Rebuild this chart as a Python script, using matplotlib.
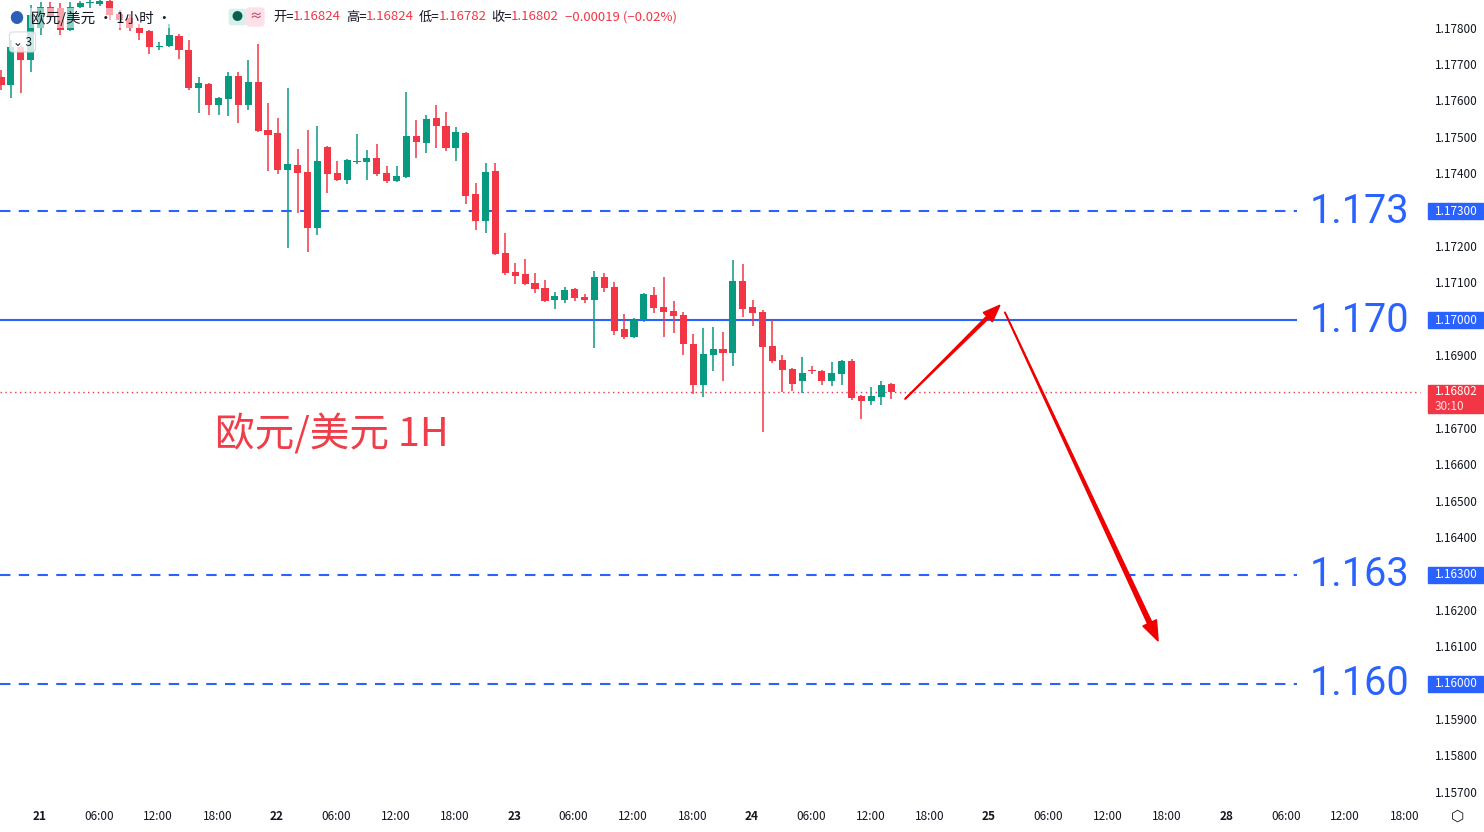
import numpy as np
import matplotlib
matplotlib.use('Agg')
from matplotlib import pyplot as plt
from matplotlib.patches import Polygon, Rectangle
from matplotlib.transforms import blended_transform_factory

plt.rcParams['font.family'] = ['Noto Sans CJK SC', 'DejaVu Sans']

# hourly candles, 20th 20:00 .. 24th 14:00
opens = [1.17668, 1.17646, 1.17751, 1.17715, 1.17803, 1.17861, 1.17858, 1.17798, 1.17861, 1.17872,
         1.17869, 1.17877, 1.17842, 1.17831, 1.17803, 1.17795, 1.17752, 1.17754, 1.17781, 1.17743,
         1.17638, 1.17649, 1.17591, 1.17608, 1.17671, 1.17591, 1.17655, 1.17523, 1.17514, 1.17413,
         1.17426, 1.17407, 1.17253, 1.17476, 1.17404, 1.17385, 1.17436, 1.17435, 1.17446, 1.17404,
         1.17382, 1.17393, 1.17506, 1.17487, 1.17556, 1.17534, 1.17473, 1.17514, 1.17347, 1.17272,
         1.17410, 1.17184, 1.17132, 1.17127, 1.17102, 1.17088, 1.17055, 1.17055, 1.17086, 1.17064,
         1.17055, 1.17119, 1.17091, 1.16976, 1.16954, 1.17000, 1.17069, 1.17036, 1.17025, 1.17014,
         1.16934, 1.16822, 1.16904, 1.16921, 1.16910, 1.17108, 1.17036, 1.17022, 1.16929, 1.16890,
         1.16866, 1.16833, 1.16863, 1.16860, 1.16833, 1.16852, 1.16888, 1.16791, 1.16778, 1.16789,
         1.16824]
highs = [1.17688, 1.17770, 1.17756, 1.17866, 1.17875, 1.17875, 1.17872, 1.17875, 1.17877, 1.17880,
         1.17880, 1.17880, 1.17853, 1.17842, 1.17814, 1.17797, 1.17765, 1.17814, 1.17787, 1.17770,
         1.17668, 1.17651, 1.17613, 1.17682, 1.17682, 1.17715, 1.17759, 1.17597, 1.17556, 1.17638,
         1.17470, 1.17523, 1.17534, 1.17478, 1.17437, 1.17442, 1.17512, 1.17468, 1.17484, 1.17424,
         1.17424, 1.17627, 1.17550, 1.17564, 1.17591, 1.17572, 1.17531, 1.17516, 1.17377, 1.17432,
         1.17432, 1.17240, 1.17157, 1.17168, 1.17130, 1.17110, 1.17077, 1.17091, 1.17088, 1.17072,
         1.17135, 1.17130, 1.17105, 1.17017, 1.17006, 1.17074, 1.17091, 1.17119, 1.17053, 1.17022,
         1.16962, 1.16978, 1.16981, 1.16967, 1.17165, 1.17154, 1.17055, 1.17028, 1.17000, 1.16904,
         1.16868, 1.16899, 1.16874, 1.16862, 1.16885, 1.16890, 1.16893, 1.16793, 1.16816, 1.16833,
         1.16826]
lows = [1.17633, 1.17611, 1.17624, 1.17682, 1.17784, 1.17825, 1.17784, 1.17795, 1.17858, 1.17858,
        1.17864, 1.17825, 1.17798, 1.17795, 1.17770, 1.17732, 1.17743, 1.17752, 1.17718, 1.17633,
        1.17569, 1.17564, 1.17564, 1.17561, 1.17542, 1.17578, 1.17518, 1.17410, 1.17402, 1.17198,
        1.17294, 1.17187, 1.17234, 1.17349, 1.17383, 1.17374, 1.17429, 1.17385, 1.17396, 1.17377,
        1.17380, 1.17390, 1.17446, 1.17459, 1.17473, 1.17465, 1.17437, 1.17319, 1.17248, 1.17239,
        1.17180, 1.17124, 1.17099, 1.17097, 1.17075, 1.17050, 1.17031, 1.17047, 1.17053, 1.17047,
        1.16923, 1.17077, 1.16959, 1.16948, 1.16951, 1.16995, 1.17020, 1.16954, 1.16965, 1.16904,
        1.16797, 1.16789, 1.16860, 1.16833, 1.16874, 1.17009, 1.16984, 1.16692, 1.16882, 1.16802,
        1.16805, 1.16800, 1.16852, 1.16822, 1.16819, 1.16822, 1.16780, 1.16728, 1.16767, 1.16767,
        1.16782]
closes = [1.17646, 1.17751, 1.17715, 1.17839, 1.17861, 1.17833, 1.17798, 1.17861, 1.17872, 1.17875,
          1.17877, 1.17839, 1.17825, 1.17803, 1.17789, 1.17751, 1.17754, 1.17784, 1.17743, 1.17638,
          1.17652, 1.17591, 1.17611, 1.17671, 1.17591, 1.17655, 1.17520, 1.17509, 1.17413, 1.17429,
          1.17404, 1.17253, 1.17437, 1.17402, 1.17385, 1.17440, 1.17437, 1.17446, 1.17402, 1.17382,
          1.17396, 1.17506, 1.17490, 1.17553, 1.17534, 1.17473, 1.17517, 1.17341, 1.17272, 1.17407,
          1.17182, 1.17130, 1.17121, 1.17099, 1.17086, 1.17053, 1.17066, 1.17083, 1.17061, 1.17055,
          1.17119, 1.17088, 1.16970, 1.16954, 1.17000, 1.17072, 1.17033, 1.17022, 1.17011, 1.16934,
          1.16822, 1.16907, 1.16921, 1.16910, 1.17108, 1.17031, 1.17020, 1.16926, 1.16888, 1.16863,
          1.16824, 1.16855, 1.16860, 1.16833, 1.16855, 1.16888, 1.16786, 1.16778, 1.16791, 1.16822,
          1.16802]

levels = [1.173, 1.170, 1.163, 1.160]
level_labels = ['1.173', '1.170', '1.163', '1.160']
level_styles = ['--', '-', '--', '--']
last_price = 1.16802

y_ticks = [1.178, 1.177, 1.176, 1.175, 1.174, 1.173, 1.172, 1.171, 1.170, 1.169, 1.168,
           1.167, 1.166, 1.165, 1.164, 1.163, 1.162, 1.161, 1.160, 1.159, 1.158, 1.157]
x_tick_pos = [4 + 6 * k for k in range(24)]
x_tick_labels = ['21', '06:00', '12:00', '18:00', '22', '06:00', '12:00', '18:00',
                 '23', '06:00', '12:00', '18:00', '24', '06:00', '12:00', '18:00',
                 '25', '06:00', '12:00', '18:00', '28', '06:00', '12:00', '18:00']

# arrow path (hour index, price)
arrow_up = [(91.4, 1.16783), (101.0, 1.17041)]
arrow_down = [(101.5, 1.17022), (117.0, 1.16118)]

GREEN = '#089981'
RED = '#f23645'
BLUE = '#2962ff'

fig = plt.figure(figsize=(14.84, 8.32), dpi=100)
ax = fig.add_axes([0, 32 / 832, 1, 800 / 832])
ax.set_xlim(-0.1, 149.95)
ax.set_ylim(1.15681, 1.17880)
ax.axis('off')

for i in range(len(opens)):
    o, h, l, c = opens[i], highs[i], lows[i], closes[i]
    col = GREEN if c >= o else RED
    ax.vlines(i, l, h, color=col, linewidth=1.1, zorder=3)
    body = max(abs(c - o), 0.000015)
    ax.add_patch(Rectangle((i - 0.36, min(o, c)), 0.72, body, color=col, zorder=4, linewidth=0))

# levels
for lv, lab, ls in zip(levels, level_labels, level_styles):
    style = (0, (5, 4)) if ls == '--' else '-'
    ax.hlines(lv, -0.1, 131.0, color=BLUE, linestyle=style, linewidth=1.5, zorder=2)
    ax.text(142.4, lv, lab, color=BLUE, fontsize=28.5, ha='right', va='center',
            family=['Roboto', 'DejaVu Sans'])

ax.hlines(last_price, -0.1, 143.5, color=RED, linestyle=(0, (1, 2.5)), linewidth=1, zorder=2)

# right price scale
yt = ax.get_yaxis_transform()
for t in y_ticks:
    if t in levels:
        continue
    ax.text(0.967, t, '%.5f' % t, transform=yt, fontsize=8.5, color='#131722', va='center')
for lv in levels:
    ax.add_patch(Rectangle((0.9625, lv - 0.00022), 0.037, 0.00044, transform=yt,
                           color=BLUE, clip_on=False, zorder=5))
    ax.text(0.967, lv, '%.5f' % lv, transform=yt, fontsize=8.5, color='white', va='center', zorder=6)
ax.add_patch(Rectangle((0.9625, last_price - 0.00058), 0.037, 0.00078, transform=yt,
                       color=RED, clip_on=False, zorder=5))
ax.text(0.967, last_price + 0.00001, '%.5f' % last_price, transform=yt, fontsize=8.5,
        color='white', va='center', zorder=6)
ax.text(0.967, last_price - 0.00038, '30:10', transform=yt, fontsize=8.5,
        color='#ffe0e3', va='center', zorder=6)

# time axis
xt = blended_transform_factory(ax.transData, fig.transFigure)
for p, lab in zip(x_tick_pos, x_tick_labels):
    bold = ':' not in lab
    ax.text(p - 0.1, 1 - 816 / 832, lab, transform=xt, fontsize=8.5, ha='center', va='center',
            color='#131722', fontweight='bold' if bold else 'normal')
fig.text(1458 / 1484, 1 - 816 / 832, '⬡', fontsize=11, ha='center', va='center', color='#131722')


def tapered_arrow(p0, p1, w0, w1, head_w, head_l):
    a = ax.transData.transform(p0)
    b = ax.transData.transform(p1)
    d = (b - a) / np.linalg.norm(b - a)
    n = np.array([-d[1], d[0]])
    base = b - d * head_l
    pts = [a + n * w0 / 2, base + n * w1 / 2, base + n * head_w / 2, b,
           base - n * head_w / 2, base - n * w1 / 2, a - n * w0 / 2]
    fig.patches.append(Polygon(pts, closed=True, transform=None, color='#f00000', zorder=10))


tapered_arrow(arrow_up[0], arrow_up[1], 0.5, 3.0, 13, 17)
tapered_arrow(arrow_down[0], arrow_down[1], 0.5, 4.5, 15, 20)

# labels
ax.text(21.6, 1.16684, '欧元/美元 1H', color='#ef3e4a', fontsize=28.5, va='center')

fig.text(31 / 1484, 1 - 18 / 832, '欧元/美元 · 1小时 ·', fontsize=10.5, va='center', color='#131722',
         bbox=dict(boxstyle='square,pad=0.15', fc='white', ec='none', alpha=0.55))
fig.text(9 / 1484, 1 - 19 / 832, '●', fontsize=10, va='center', color='#2c5fb8')
fig.text(13 / 1484, 1 - 42 / 832, '⌄ 3', fontsize=8.5, va='center', color='#131722',
         bbox=dict(boxstyle='round,pad=0.3', fc='white', ec='#d1d4dc', lw=0.8, alpha=0.8))
fig.text(232 / 1484, 1 - 17 / 832, '●', fontsize=8, va='center', color='#0b5e4f',
         bbox=dict(boxstyle='round,pad=0.3', fc='#d6f0ea', ec='none'))
fig.text(249 / 1484, 1 - 17 / 832, '≈', fontsize=9, va='center', color='#b0245a',
         bbox=dict(boxstyle='round,pad=0.25', fc='#fde0e8', ec='none'))
header = [(273, '开=', '#131722'), (293, '1.16824', RED), (346, '高=', '#131722'), (366, '1.16824', RED),
          (419, '低=', '#131722'), (439, '1.16782', RED), (491, '收=', '#131722'), (511, '1.16802', RED),
          (565, '−0.00019 (−0.02%)', RED)]
for px, s, col in header:
    fig.text(px / 1484, 1 - 17 / 832, s, fontsize=9.5, va='center', color=col)

fig.savefig('out.png', dpi=100)
